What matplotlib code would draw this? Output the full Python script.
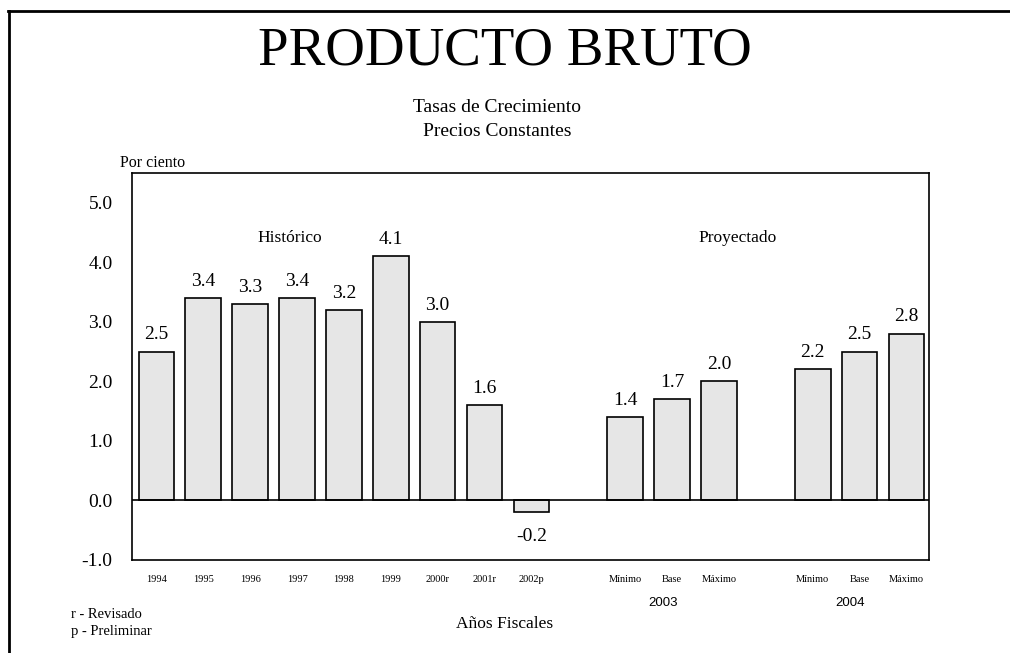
import matplotlib
matplotlib.use("Agg")
import matplotlib.pyplot as plt
from matplotlib.lines import Line2D

# ---- data ----
categories = ["1994", "1995", "1996", "1997", "1998", "1999", "2000r", "2001r", "2002p",
              "Mínimo", "Base", "Máximo", "Mínimo", "Base", "Máximo"]
positions = [0, 1, 2, 3, 4, 5, 6, 7, 8, 10, 11, 12, 14, 15, 16]
values = [2.5, 3.4, 3.3, 3.4, 3.2, 4.1, 3.0, 1.6, -0.2,
          1.4, 1.7, 2.0, 2.2, 2.5, 2.8]
group_labels = ["2003", "2004"]
group_positions = [10.8, 14.8]
y_ticks = [-1.0, 0.0, 1.0, 2.0, 3.0, 4.0, 5.0]

SERIF = "Liberation Serif"
SANS = "Liberation Sans"

fig = plt.figure(figsize=(10.10, 6.53), dpi=100)
fig.patch.set_facecolor("white")

ax = fig.add_axes([132/1010, 1-560/653, 797/1010, 387/653])
ax.bar(positions, values, width=0.76, color="#e6e6e6", edgecolor="black", linewidth=1.2, zorder=2)
ax.axhline(0, color="black", linewidth=1.2, zorder=3)
ax.set_xlim(-0.52, 16.48)
ax.set_ylim(-1.0, 5.5)

ax.set_yticks(y_ticks)
ax.set_yticklabels([f"{v:.1f}" for v in y_ticks], fontfamily=SERIF, fontsize=14)
ax.set_xticks(positions)
ax.set_xticklabels(categories, fontfamily=SERIF, fontsize=7.5)
ax.tick_params(axis="both", length=0)
ax.tick_params(axis="y", pad=14)
ax.tick_params(axis="x", pad=11)
for s in ax.spines.values():
    s.set_linewidth(1.2)
    s.set_color("black")

# value labels
for x, v in zip(positions, values):
    if v >= 0:
        ax.text(x, v + 0.14, f"{v:.1f}", ha="center", va="bottom", fontfamily=SERIF, fontsize=14)
    else:
        ax.text(x, v - 0.27, f"{v:.1f}", ha="center", va="top", fontfamily=SERIF, fontsize=14)

ax.text(2.85, 4.4, "Histórico", ha="center", va="center", fontfamily=SERIF, fontsize=12.5)
ax.text(12.4, 4.4, "Proyectado", ha="center", va="center", fontfamily=SERIF, fontsize=12.5)

# group labels under ticks
for gx, gl in zip(group_positions, group_labels):
    ax.text(gx, -1.72, gl, ha="center", va="center", fontfamily=SANS, fontsize=9.5)

# titles
fig.text(505/1010, 1-51/653, "PRODUCTO BRUTO", ha="center", va="center", fontfamily=SERIF, fontsize=39.5)
fig.text(497/1010, 1-107/653, "Tasas de Crecimiento", ha="center", va="center", fontfamily=SERIF, fontsize=14)
fig.text(497/1010, 1-132/653, "Precios Constantes", ha="center", va="center", fontfamily=SERIF, fontsize=14)
fig.text(120/1010, 1-163/653, "Por ciento", ha="left", va="center", fontfamily=SERIF, fontsize=11.5)
fig.text(505/1010, 1-624/653, "Años Fiscales", ha="center", va="center", fontfamily=SERIF, fontsize=12.5)
fig.text(71/1010, 1-614/653, "r - Revisado", ha="left", va="center", fontfamily=SERIF, fontsize=10.5)
fig.text(71/1010, 1-631/653, "p - Preliminar", ha="left", va="center", fontfamily=SERIF, fontsize=10.5)

# outer frame lines
fig.add_artist(Line2D([8/1010, 1.0], [1-11/653, 1-11/653], color="black", linewidth=2.0, transform=fig.transFigure))
fig.add_artist(Line2D([8.5/1010, 8.5/1010], [0.0, 1-11/653], color="black", linewidth=2.0, transform=fig.transFigure))

fig.savefig("out.png", dpi=100)
